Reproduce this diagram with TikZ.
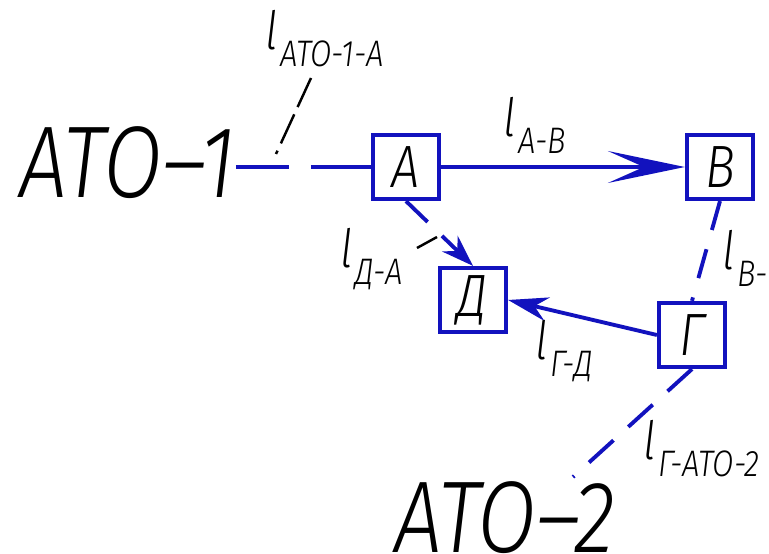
\documentclass[tikz,border=0pt]{standalone}
\usepackage{fontspec}
\setmainfont{Fira Sans}[UprightFont=* Light,ItalicFont=* Light Italic,FakeStretch=0.84]
\usepackage{tikz}
\usetikzlibrary{arrows.meta}
\usepackage{xcolor}
\newcommand{\li}[1]{\textit{l}\kern0.2mm\raisebox{-1.7mm}{\fontsize{10.5}{11}\selectfont\itshape #1}}
\definecolor{lnc}{RGB}{18,18,190}
\tikzset{
  pt/.style={rectangle,draw=lnc,line width=1.2pt,minimum width=6.6mm,minimum height=6.4mm,inner sep=0pt,font=\fontsize{17}{17}\selectfont\itshape},
  big/.style={inner sep=0pt,font=\fontsize{29}{29}\selectfont\itshape},
  lbl/.style={inner sep=0pt,font=\fontsize{15}{15}\selectfont\itshape},
  ln/.style={line width=1.1pt,lnc},
  dsh/.style={ln,dash pattern=on 3mm off 2mm},
  lead/.style={line width=0.7pt,black,dash pattern=on 3.2mm off 0.8mm},
  arr/.style={-{Stealth[length=4mm,width=2.4mm]}},
}
\begin{document}
\begin{tikzpicture}[x=0.1mm,y=-0.1mm]
  \useasboundingbox (0,0) rectangle (769,554);
  % stations
  \node[pt] (A) at (406,167){А};
  \node[pt] (B) at (720,167){В};
  \node[pt] (G) at (692,335){Г};
  \node[pt] (D) at (473,300){Д};
  \node[big,anchor=east] (ato1) at (236,163){АТО–1};
  \node[big] (ato2) at (505,518){АТО–2};
  \coordinate (e2) at (573,477);
  % links between stations
  \draw[ln,dash pattern=on 5.3mm off 2.2mm on 9mm off 0mm] (ato1.east |- A.west) -- (A.west);
  \draw[ln,-{Stealth[length=7.7mm,width=3.2mm,inset=3.6mm]}] (A) -- (B);
  \draw[dsh,-{Stealth[length=3.2mm,width=2.2mm]}] (A.south) -- (D.north);
  \draw[dsh] (B.south) -- (G.north);
  \draw[ln,arr] (G.west) -- (D.east);
  \draw[ln,dash pattern=on 3.3mm off 2mm] (G.south) -- (e2);
  % link labels and leaders
  \node[lbl,anchor=base west] (l1) at (265,50){\li{АТО-1-А}};
  \node[lbl,anchor=base west] (l2) at (503,137){\li{А-В}};
  \node[lbl,anchor=base west] (l3) at (340,268){\li{Д-А}};
  \node[lbl,anchor=base west] (l4) at (722,270){\li{В-Г}};
  \node[lbl,anchor=base west] (l5) at (535,360){\li{Г-Д}};
  \node[lbl,anchor=base west] (l6) at (643,460){\li{Г-АТО-2}};
  \coordinate (k1) at (311,78); \coordinate (k1e) at (276,154);
  \coordinate (k3) at (417,248); \coordinate (k3e) at (437,237);
  \draw[lead] (k1) -- (k1e);
  \draw[line width=0.7pt] (k3) -- (k3e);
\end{tikzpicture}
\end{document}
